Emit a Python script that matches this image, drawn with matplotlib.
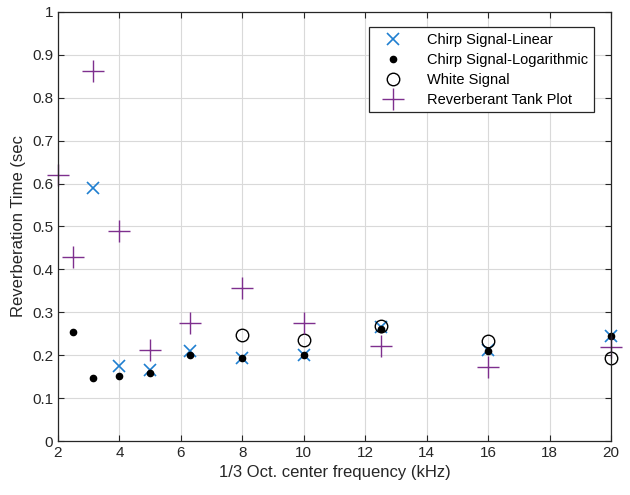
import numpy as np
import matplotlib.pyplot as plt

plt.rcParams['font.family'] = ['Liberation Sans', 'DejaVu Sans']

# 1/3 octave centre frequencies (kHz)
freq = [2, 2.5, 3.15, 4, 5, 6.3, 8, 10, 12.5, 16, 20]

chirp_lin = [np.nan, np.nan, 0.59, 0.175, 0.166, 0.209, 0.193, 0.201, 0.265, 0.212, 0.244]
chirp_log = [np.nan, 0.255, 0.148, 0.151, 0.158, 0.200, 0.194, 0.200, 0.260, 0.210, 0.245]
white = [np.nan, np.nan, np.nan, np.nan, np.nan, np.nan, 0.246, 0.236, 0.268, 0.232, 0.194]
tank = [0.621, 0.430, 0.862, 0.489, 0.212, 0.276, 0.357, 0.276, 0.222, 0.172, 0.219]

fig = plt.figure(figsize=(6.3, 4.95), dpi=100)
ax = fig.add_axes([0.092, 0.109, 0.878, 0.867])

ax.plot(freq, chirp_lin, 'x', color='#1f7fd0', ms=9, mew=1.2, ls='none', clip_on=False,
        label='Chirp Signal-Linear')
ax.plot(freq, chirp_log, 'o', color='black', ms=4.5, ls='none', clip_on=False,
        label='Chirp Signal-Logarithmic')
ax.plot(freq, white, 'o', mfc='none', mec='black', ms=9, mew=1.0, ls='none', clip_on=False,
        label='White Signal')
ax.plot(freq, tank, '+', color='#7E2F8E', ms=16, mew=1.0, ls='none', clip_on=False,
        label='Reverberant Tank Plot')

ax.set_xlim(2, 20)
ax.set_ylim(0, 1)
ax.set_xticks(np.arange(2, 21, 2))
ax.set_yticks(np.arange(0, 1.01, 0.1))
ax.set_yticklabels(['0', '0.1', '0.2', '0.3', '0.4', '0.5', '0.6', '0.7', '0.8', '0.9', '1'])
ax.grid(True, color='#d9d9d9', lw=0.8)
ax.set_axisbelow(True)
ax.tick_params(direction='in', top=True, right=True, labelsize=11, length=4, colors='#262626')
for s in ax.spines.values():
    s.set_color('#262626')
    s.set_linewidth(0.9)

ax.set_xlabel('1/3 Oct. center frequency (kHz)', fontsize=12, color='#262626')
ax.set_ylabel('Reverberation Time (sec', fontsize=12, color='#262626')

leg = ax.legend(loc='upper right', bbox_to_anchor=(0.982, 0.981), fontsize=10.5, frameon=True,
                fancybox=False, edgecolor='#262626', framealpha=1, borderpad=0.4,
                labelspacing=0.4, handletextpad=1.0, handlelength=2.6)
leg.get_frame().set_linewidth(0.9)

fig.savefig('out.png', dpi=100)
